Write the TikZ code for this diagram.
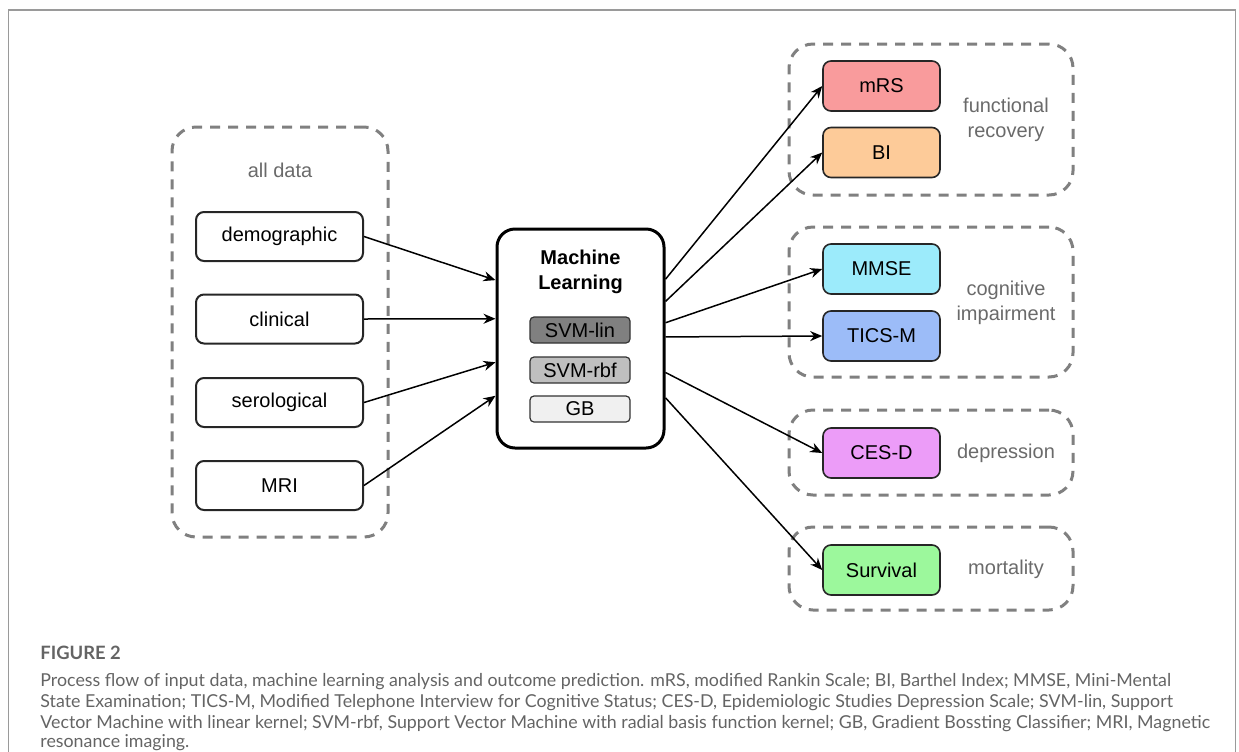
\documentclass[tikz,border=0pt]{standalone}
\usepackage{fontspec}
\setmainfont{Liberation Sans}
\newfontfamily\capfont{Lato}
\usetikzlibrary{arrows.meta,calc}

\definecolor{mrscol}{HTML}{F99B9C}
\definecolor{bicol}{HTML}{FDCB99}
\definecolor{mmsecol}{HTML}{9CEBFB}
\definecolor{ticscol}{HTML}{9CBCF8}
\definecolor{cescol}{HTML}{EC9CF8}
\definecolor{survcol}{HTML}{9CF89C}
\definecolor{dashgrey}{HTML}{808080}
\definecolor{labelgrey}{HTML}{6A6A6A}
\definecolor{capgrey}{HTML}{646464}
\definecolor{framegrey}{HTML}{9A9A9A}

\begin{document}
\begin{tikzpicture}[x=0.5pt,y=-0.5pt,
group/.style={draw=dashgrey, line width=1.5pt, dash pattern=on 5pt off 4pt, rounded corners=12pt, inner sep=0pt},
inbox/.style={draw=black!85, line width=1pt, rounded corners=4pt, minimum width=83.5pt, minimum height=24.5pt, font=\fontsize{10}{12}\selectfont},
outbox/.style={draw=black!85, line width=0.8pt, rounded corners=4pt, minimum width=58.5pt, minimum height=25pt, font=\fontsize{10}{12}\selectfont},
algo/.style={draw=black!80, line width=0.6pt, rounded corners=2pt, minimum width=50pt, minimum height=13pt, inner sep=0pt, font=\fontsize{10}{12}\selectfont},
grouplabel/.style={text=labelgrey, align=center, font=\fontsize{10}{12.5}\selectfont},
caption/.style={anchor=base west, inner sep=0pt, text=capgrey, font=\capfont\fontsize{8.9}{10.5}\selectfont},
arr/.style={-{Stealth[length=6pt,width=5pt]}, line width=0.75pt},
]
\useasboundingbox (0,0) rectangle (1239,751);

% frame
\draw[framegrey, line width=0.8pt] (8.5,770) -- (8.5,10) -- (1235.5,10) -- (1235.5,770);

% inputs
\node[group, minimum width=108pt, minimum height=205pt] (alldata) at (280,332) {};
\node[grouplabel] (alldatalabel) at (280,170) {all data};
\node[inbox] (demo) at (279.5,236.5) {demographic};
\node[inbox] (clin) at (279.5,319) {clinical};
\node[inbox] (sero) at (279.5,402.5) {serological};
\node[inbox] (mri) at (279.5,485.5) {MRI};

% machine learning
\node[draw, line width=1.5pt, rounded corners=9pt, minimum width=83.5pt, minimum height=109.5pt] (ml) at (580.5,338.5) {};
\node[font=\bfseries\fontsize{10}{12.5}\selectfont, align=center] (mltitle) at (580.5,272) {Machine\\Learning};
\node[algo, fill=black!50] (svmlin) at (580,330) {SVM-lin};
\node[algo, fill=black!25] (svmrbf) at (580,370) {SVM-rbf};
\node[algo, fill=black!6] (gb) at (580,409) {GB};

% outcomes
\node[group, minimum width=142pt, minimum height=75.5pt] (funcgrp) at (931,119.5) {};
\node[group, minimum width=142pt, minimum height=75pt] (coggrp) at (931,302) {};
\node[group, minimum width=142pt, minimum height=42.5pt] (depgrp) at (931,452.5) {};
\node[group, minimum width=142pt, minimum height=41.5pt] (mortgrp) at (931,568.5) {};

\node[outbox, fill=mrscol] (mrs) at (881.5,86) {mRS};
\node[outbox, fill=bicol] (bi) at (881.5,152.5) {BI};
\node[outbox, fill=mmsecol] (mmse) at (881.5,269) {MMSE};
\node[outbox, fill=ticscol] (tics) at (881.5,336) {TICS-M};
\node[outbox, fill=cescol] (cesd) at (881.5,453) {CES-D};
\node[outbox, fill=survcol] (surv) at (881.5,570) {Survival};

\node[grouplabel] (funclabel) at (1006,119.5) {functional\\recovery};
\node[grouplabel] (coglabel) at (1006,302.5) {cognitive\\impairment};
\node[grouplabel] (deplabel) at (1006,453) {depression};
\node[grouplabel] (mortlabel) at (1006,569) {mortality};

\path[arr]
(demo.east) edge ($(ml.north west)!0.237!(ml.south west)$)
(clin.east) edge ($(ml.north west)!0.411!(ml.south west)$)
(sero.east) edge ($(ml.north west)!0.607!(ml.south west)$)
(mri.east) edge ($(ml.north west)!0.758!(ml.south west)$)
($(ml.north east)!0.233!(ml.south east)$) edge (mrs.west)
($(ml.north east)!0.333!(ml.south east)$) edge (bi.west)
($(ml.north east)!0.429!(ml.south east)$) edge (mmse.west)
($(ml.north east)!0.493!(ml.south east)$) edge (tics.west)
($(ml.north east)!0.653!(ml.south east)$) edge (cesd.west)
($(ml.north east)!0.767!(ml.south east)$) edge (surv.west)
;

% caption
\node[caption, font=\capfont\bfseries\fontsize{9.2}{10}\selectfont] (figno) at (40,659.5) {FIGURE 2};
\node[caption] (cap1) at (40,686.5) {Process flow of input data, machine learning analysis and outcome prediction. mRS, modified Rankin Scale; BI, Barthel Index; MMSE, Mini-Mental};
\node[caption] (cap2) at (40,707.5) {State Examination; TICS-M, Modified Telephone Interview for Cognitive Status; CES-D, Epidemiologic Studies Depression Scale; SVM-lin, Support};
\node[caption] (cap3) at (40,728.5) {Vector Machine with linear kernel; SVM-rbf, Support Vector Machine with radial basis function kernel; GB, Gradient Bossting Classifier; MRI, Magnetic};
\node[caption] (cap4) at (40,747) {resonance imaging.};
\end{tikzpicture}
\end{document}
